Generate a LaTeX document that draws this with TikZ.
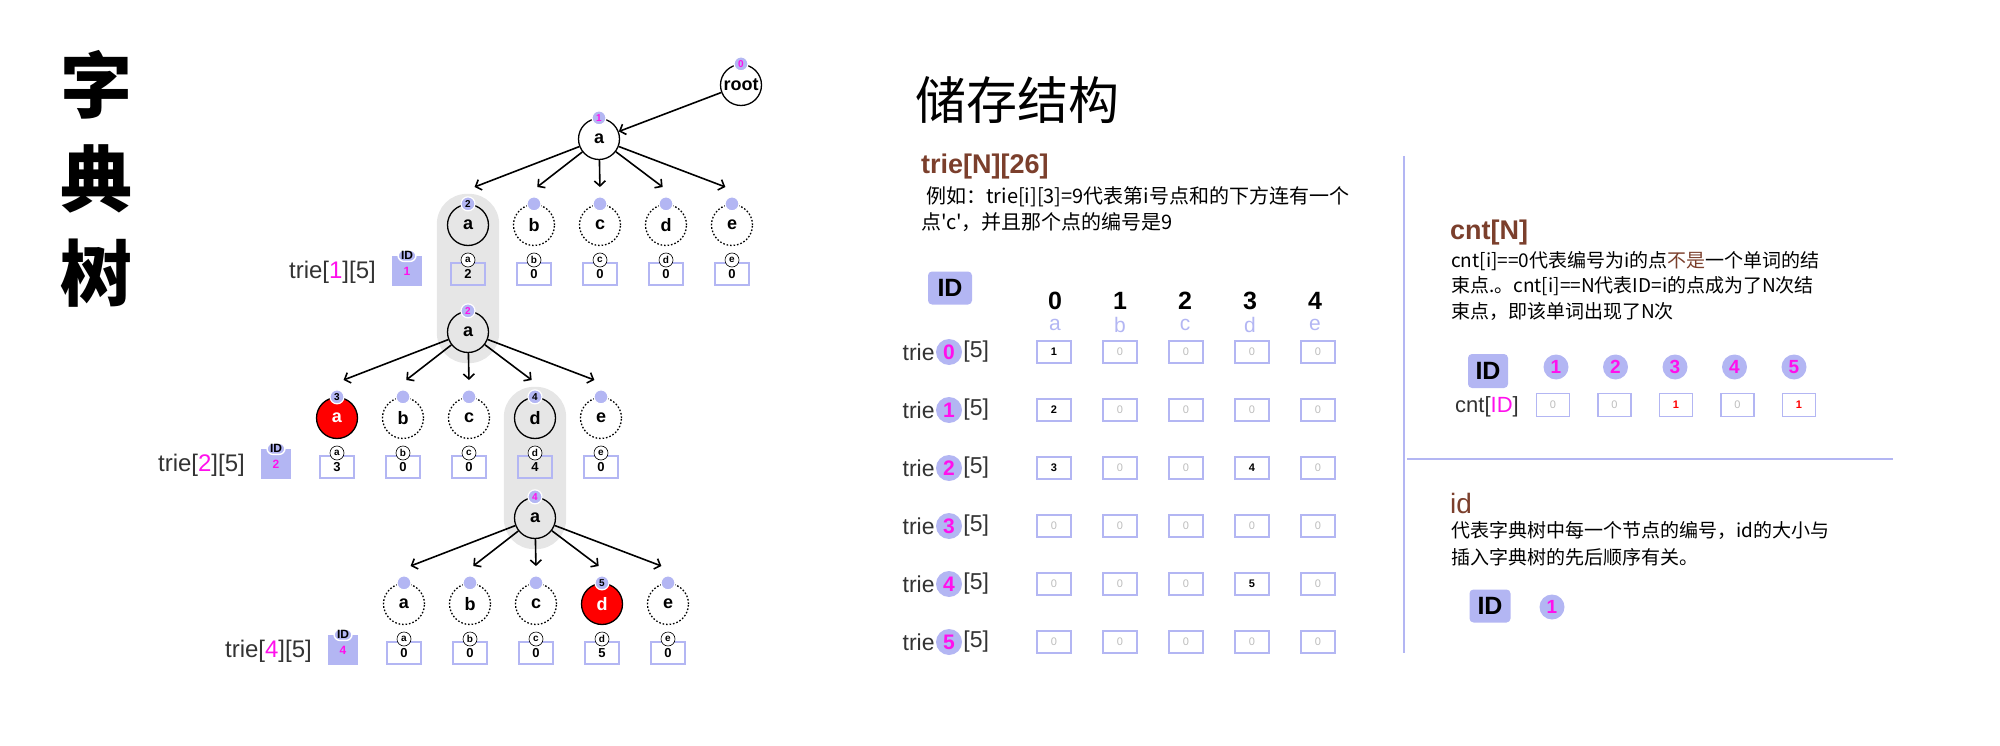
\documentclass[tikz,border=0pt]{standalone}
\usepackage{fontspec}
\setmainfont{Liberation Sans}
\newfontfamily\cjk{Noto Sans CJK SC}
\usetikzlibrary{arrows.meta, positioning, calc, fit, backgrounds}
\definecolor{trielav}{HTML}{B3B6F3}
\definecolor{triemag}{HTML}{FF10EC}
\definecolor{triebrown}{HTML}{7B3F2C}
\definecolor{triegray}{HTML}{E6E6E6}
\definecolor{trietext}{HTML}{333333}
\definecolor{triezero}{HTML}{BDBDBD}
\newcommand{\trsize}[1]{\fontsize{#1}{#1}\selectfont}

\begin{document}
\begin{tikzpicture}[x=1pt, y=-1pt,
    tnode/.style={circle, draw, line width=1.3pt, minimum size=41pt, inner sep=0pt,
                  font=\bfseries\trsize{18}},
    livenode/.style={tnode},
    ghostnode/.style={tnode, dash pattern=on 1.6pt off 1.9pt},
    endnode/.style={tnode, fill=red, text=white},
    badge/.style={circle, fill=trielav, draw=white, line width=1.2pt, minimum size=14pt,
                  inner sep=0pt, font=\bfseries\trsize{10}},
    pbadge/.style={badge, text=triemag},
    chlbl/.style={circle, fill=white, draw, line width=0.6pt, minimum size=14pt,
                  inner sep=0pt, font=\bfseries\trsize{10}},
    cell/.style={rectangle, draw=trielav, line width=1.8pt, minimum width=34pt,
                 minimum height=22pt, inner sep=0pt},
    treeval/.style={cell, font=\bfseries\trsize{13}},
    cellzero/.style={cell, fill=white, text=triezero, font=\trsize{11}},
    cellfull/.style={cell, fill=white, font=\bfseries\trsize{11}},
    cellred/.style={cell, fill=white, text=red, font=\bfseries\trsize{11}},
    arr/.style={-{Straight Barb[length=5pt, width=11pt]}, line width=1.6pt},
    pill/.style={rectangle, rounded corners=30pt, fill=triegray, inner sep=10pt},
    trielbl/.style={font=\trsize{24}, text=trietext, inner sep=1pt},
    rowlbl/.style={font=\trsize{23}, text=trietext, inner sep=1pt},
    idtag/.style={rectangle, fill=trielav, minimum width=30pt, minimum height=30pt,
                  inner sep=0pt, text=triemag, font=\bfseries\trsize{12}},
    idpill/.style={rectangle, rounded corners=6pt, fill=trielav, draw=white,
                   line width=1.4pt, inner xsep=3pt, inner ysep=1.5pt, font=\bfseries\trsize{12}},
    idhead/.style={rectangle, rounded corners=4pt, fill=trielav, minimum width=44pt,
                   minimum height=33pt, inner sep=0pt, font=\bfseries\trsize{25}},
    idnum/.style={circle, fill=trielav, minimum size=25pt, inner sep=0pt, text=triemag,
                  font=\bfseries\trsize{19}},
    colnum/.style={font=\bfseries\trsize{25}, inner sep=0pt},
    colchar/.style={font=\trsize{21}, text=trielav, inner sep=0pt},
    heading/.style={anchor=west, text=triebrown, inner sep=0pt},
    desc/.style={anchor=west, font=\cjk\trsize{19}, inner sep=0pt},
    divider/.style={draw=trielav, line width=1.5pt},
  ]
  \useasboundingbox (0,0) rectangle (2000,746);

  % title
  \foreach \i/\z in {0/字,1/典,2/树}
    \node[font=\cjk\bfseries\trsize{72}] (zt\i) at (96,{85+94*\i}) {\z};

  % the trie
  \node[tnode, fill=white] (root) at (741,85) {root};
  \node[pbadge] at (root.north) {0};
  \node[tnode, fill=white] (p1) at (599,139) {a};
  \node[tnode] (p2) at (468,332) {a};
  \node[tnode] (p4) at (535,518) {a};
  \draw[arr] (root) -- (p1);

  \foreach \pid/\items in {
      1/{0/a/livenode/2/2, 1/b/ghostnode//0, 2/c/ghostnode//0, 3/d/ghostnode//0, 4/e/ghostnode//0},
      2/{0/a/endnode/3/3, 1/b/ghostnode//0, 2/c/ghostnode//0, 3/d/livenode/4/4, 4/e/ghostnode//0},
      4/{0/a/ghostnode//0, 1/b/ghostnode//0, 2/c/ghostnode//0, 3/d/endnode/5/5, 4/e/ghostnode//0}} {
    \node[pbadge] at (p\pid.north) {\pid};
    \foreach \k/\ch/\kind/\id/\val in \items {
      \node[\kind] (k\pid\k) at ($(p\pid)+(\k*66-131,86)$) {\ch};
      \node[badge] at (k\pid\k.north) {\id};
      \coordinate (t\pid\k) at ($(p\pid)+({0.95*(\k*66-131)},48)$);
      \draw[arr] (p\pid) -- (t\pid\k);
      \node[treeval] (v\pid\k) at ($(k\pid\k)+(0,49)$) {\val};
      \node[chlbl] at ($(k\pid\k)+(0,35)$) {\ch};
    }
    \node[trielbl, anchor=east] (lbl\pid) at ($(k\pid0)+(-91,47)$)
         {trie[{\color{triemag}\pid}][5]};
    \node[idtag] (tag\pid) at ($(k\pid0)+(-61,46)$) {\pid};
    \node[idpill] at (tag\pid.north) {ID};
  }
  \begin{scope}[on background layer]
    \node[pill, fit=(k10)(p2)] (hl1) {};
    \node[pill, fit=(k23)(p4)] (hl2) {};
  \end{scope}

  % storage structure
  \node[anchor=west, font=\cjk\trsize{51}, inner sep=0pt] (title) at (915,100) {储存结构};
  \node[heading, font=\bfseries\trsize{27}] (triehd) at (921,167) {trie[N][26]};
  \node[desc, font=\cjk\trsize{20}] (trieln1) at (921,197)
       {\hspace*{5pt}例如：trie[i][3]=9代表第i号点和的下方连有一个};
  \node[desc, font=\cjk\trsize{20}] (trieln2) at (921,222) {点'c'，并且那个点的编号是9};

  \node[idhead] (tblid) at (950,288) {ID};
  \foreach \c/\l in {0/a,1/b,2/c,3/d,4/e} {
    \node[colnum] (h\c) at ({1055+65*\c},301) {\c};
    \node[colchar] (hc\c) at ({1055+65*\c},325) {\l};
  }
  \foreach \r/\va/\vb/\vc/\vd/\ve in {0/1/0/0/0/0, 1/2/0/0/0/0, 2/3/0/0/4/0,
                                      3/0/0/0/0/0, 4/0/0/0/5/0, 5/0/0/0/0/0} {
    \node[idnum, minimum size=26pt, font=\bfseries\trsize{21}] (r\r) at (949,{352+58*\r}) {\r};
    \node[rowlbl, anchor=east] at (r\r.west) {trie};
    \node[rowlbl, anchor=west] at (r\r.east) {[5]};
    \foreach \c/\v in {0/\va, 1/\vb, 2/\vc, 3/\vd, 4/\ve} {
      \ifnum\v=0 \def\cellkind{cellzero}\else\def\cellkind{cellfull}\fi
      \node[\cellkind] (t\r\c) at ({1054+66*\c},{352+58*\r}) {\v};
    }
  }

  % dividers
  \draw[divider] (1404,156) -- (1404,653);
  \draw[divider] (1407,459) -- (1893,459);

  % cnt
  \node[heading, font=\bfseries\trsize{27}] (cnthd) at (1450,233) {cnt[N]};
  \node[desc] (cntln1) at (1451,261) {cnt[i]==0代表编号为i的点{\color{triebrown}不是}一个单词的结};
  \node[desc] (cntln2) at (1451,286) {束点.。cnt[i]==N代表ID=i的点成为了N次结};
  \node[desc] (cntln3) at (1451,311) {束点，即该单词出现了N次};
  \node[idhead, minimum width=40pt, minimum height=34pt] (cntid) at (1488,371) {ID};
  \foreach \k/\v in {1/0, 2/0, 3/1, 4/0, 5/1} {
    \node[idnum] (cn\k) at ({1556+59.5*(\k-1)},367) {\k};
    \ifnum\v=0 \def\cellkind{cellzero}\else\def\cellkind{cellred}\fi
    \node[\cellkind, minimum width=33pt, minimum height=23pt] (cv\k) at ({1553+61.5*(\k-1)},405) {\v};
  }
  \node[rowlbl, font=\trsize{22}, anchor=east] (cntlbl) at (1520,407) {cnt[{\color{triemag}ID}]};

  % id
  \node[heading, font=\trsize{28}] (idhd) at (1450,503) {id};
  \node[desc] (idln1) at (1451,530) {代表字典树中每一个节点的编号，id的大小与};
  \node[desc] (idln2) at (1451,557) {插入字典树的先后顺序有关。};
  \node[idhead, minimum width=41pt] (idid) at (1490,606) {ID};
  \node[idnum] (idn) at (1552,607) {1};
\end{tikzpicture}
\end{document}
